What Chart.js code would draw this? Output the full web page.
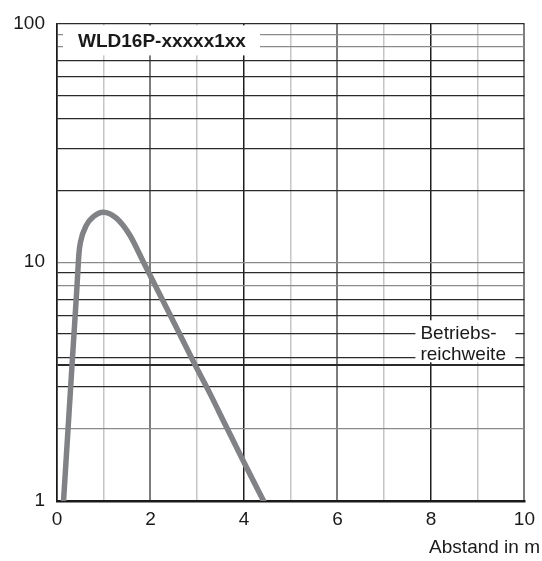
<!DOCTYPE html>
<html>
<head>
<meta charset="utf-8">
<script src="https://cdn.jsdelivr.net/npm/chart.js@4.4.1/dist/chart.umd.min.js"></script>
<style>
html, body { margin: 0; padding: 0; background: #fff; }
#caja { width: 542px; height: 561px; }
</style>
</head>
<body>
<div id="caja"><canvas id="plot1"></canvas></div>
<script>
// valores
let abstand = [0.14, 0.236, 0.332, 0.389, 0.429, 0.47, 0.505, 0.63, 0.775, 0.99, 1.27, 1.556, 1.84, 2.52, 2.95, 3.26, 3.62, 4.01, 4.42];
let signal  = [1, 2, 4, 6, 8, 10.9, 12.2, 14.3, 15.5, 16.2, 15.3, 13.0, 10.1, 5.5, 3.73, 2.85, 2.05, 1.44, 1];

let xTicks = [0, 1, 2, 3, 4, 5, 6, 7, 8, 9, 10];
let xLabels = [0, 2, 4, 6, 8, 10];
let yTicks = [1, 2, 3, 3.7, 4, 5, 6, 7, 8, 9, 10, 20, 30, 40, 50, 60, 70, 80, 90, 100];
let yLabels = [1, 10, 100];

let betriebsWert = 3.7;
let titulo = 'WLD16P-xxxxx1xx';
let etiquetaBetrieb = ['Betriebs-', 'reichweite'];
let tituloX = 'Abstand in m';

let yGris = [2, 8, 10, 80, 90];
let xClaro = [1, 3, 5, 7, 9];
let xMedio = [2, 6, 10];

let fuente = '"Liberation Sans", Arial, sans-serif';

let colorX = (v) => xClaro.includes(v) ? '#c6c6c6' : (xMedio.includes(v) ? '#7d7d7d' : '#1e1e1e');
let anchoX = (v) => xMedio.includes(v) ? 2 : 1.5;
let colorY = (v) => yGris.includes(v) ? '#8a8a8a' : '#2a2a2a';
let anchoY = (v) => v === betriebsWert ? 2 : 1.3;

let anotaciones = {
    id: 'anotaciones',
    beforeDatasetsDraw(chart) {
        let ctx = chart.ctx;
        let a = chart.chartArea;
        let yb = chart.scales.y.getPixelForValue(betriebsWert);
        ctx.save();
        ctx.fillStyle = '#fff';
        ctx.fillRect(a.left + 6, a.top + 2, 197, 30);
        ctx.fillRect(a.right - 109, yb - 45, 100, 42);

        ctx.fillStyle = '#1a1a1a';
        ctx.textBaseline = 'middle';
        ctx.font = 'bold 19px ' + fuente;
        ctx.fillText(titulo, a.left + 21, a.top + 18);

        ctx.font = '19px ' + fuente;
        ctx.fillText(etiquetaBetrieb[0], a.right - 104, yb - 32);
        ctx.fillText(etiquetaBetrieb[1], a.right - 104, yb - 11);
        ctx.restore();
    },
    afterDraw(chart) {
        let ctx = chart.ctx;
        ctx.save();
        ctx.fillStyle = '#1a1a1a';
        ctx.textBaseline = 'middle';
        ctx.textAlign = 'right';
        ctx.font = '19px ' + fuente;
        ctx.fillText(tituloX, chart.width - 2, 548);
        ctx.restore();
    }
};

let puntos = abstand.map((x, i) => ({x: x, y: signal[i]}));

let config1 = {
    type: 'line',
    data: {
        datasets: [
            {
                data: puntos,
                borderColor: '#808285',
                borderWidth: 5.5,
                pointRadius: 0,
                cubicInterpolationMode: 'monotone',
                borderCapStyle: 'round',
                borderJoinStyle: 'round'
            }
        ]
    },
    options: {
        animation: false,
        responsive: true,
        maintainAspectRatio: false,
        layout: { padding: { top: 18, right: 16, left: 0, bottom: 0 } },
        plugins: { legend: { display: false }, tooltip: { enabled: false } },
        scales: {
            x: {
                type: 'linear',
                min: 0,
                max: 10,
                afterBuildTicks: (scale) => { scale.ticks = xTicks.map(v => ({value: v})); },
                afterFit: (scale) => { scale.height = 60; },
                ticks: {
                    autoSkip: false,
                    maxRotation: 0,
                    padding: 7,
                    color: '#1a1a1a',
                    font: { family: fuente, size: 19 },
                    callback: (v) => xLabels.includes(v) ? String(v) : ''
                },
                grid: {
                    drawTicks: false,
                    color: (c) => colorX(c.tick.value),
                    lineWidth: (c) => anchoX(c.tick.value)
                },
                border: { color: '#1a1a1a', width: 2.5 }
            },
            y: {
                type: 'logarithmic',
                min: 1,
                max: 100,
                afterBuildTicks: (scale) => { scale.ticks = yTicks.map(v => ({value: v})); },
                afterFit: (scale) => { scale.width = 57; },
                ticks: {
                    autoSkip: false,
                    padding: 12,
                    color: '#1a1a1a',
                    font: { family: fuente, size: 19 },
                    callback: (v) => yLabels.includes(v) ? String(v) : ''
                },
                grid: {
                    drawTicks: false,
                    color: (c) => colorY(c.tick.value),
                    lineWidth: (c) => anchoY(c.tick.value)
                },
                border: { color: '#1a1a1a', width: 1.5 }
            }
        }
    },
    plugins: [anotaciones]
};

let plotRef = document.getElementById('plot1');
let chart1 = new Chart(plotRef, config1);
</script>
</body>
</html>
